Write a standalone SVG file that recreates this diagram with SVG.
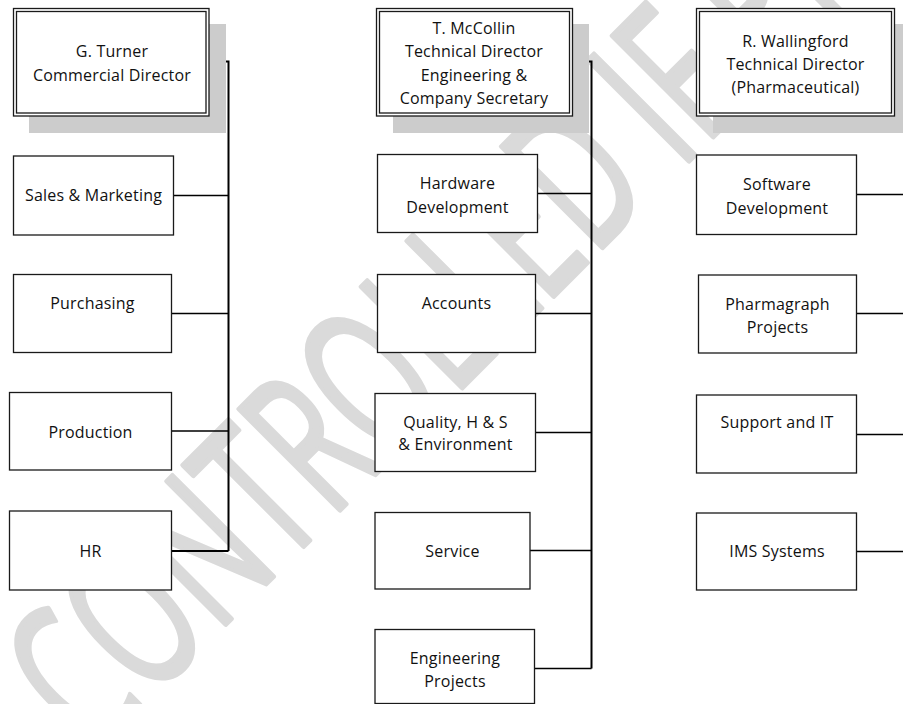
<svg xmlns="http://www.w3.org/2000/svg" width="903" height="704" viewBox="0 0 903 704">
<style>
.wm{font-family:"Open Sans","Liberation Sans",sans-serif;font-weight:400;fill:#dadada;stroke:#dadada;stroke-width:5;stroke-linejoin:round}
.sh{fill:#cccccc}
.bx{fill:#ffffff;stroke:#1a1a1a;stroke-width:1.3}
.in{fill:none;stroke:#1a1a1a;stroke-width:1.3}
.t{font-family:"Open Sans","Liberation Sans",sans-serif;font-size:16px;fill:#111;text-anchor:middle;letter-spacing:0.2px}
.c{fill:none;stroke:#000;stroke-width:1.3}
.cv{fill:none;stroke:#000;stroke-width:2}
</style>
<rect width="903" height="704" fill="#ffffff"/>
<g id="watermark">
<text class="wm" font-size="200" transform="translate(93,757) rotate(-45) scale(0.62,1)">CONTROLLED IF PRINTED</text>
</g>
<g id="connectors">
<path class="cv" d="M209,61.5 H228.5 V551"/>
<path class="c" d="M173.5,195.5 H228.5 M171.5,313.5 H228.5 M171.5,431 H228.5"/>
<path class="cv" d="M171.5,551 H228.5"/>
<path class="cv" d="M572.5,61.5 H591.5 V668.5"/>
<path class="c" d="M537.5,193.5 H591.5 M535.5,313.5 H591.5 M535.5,432.5 H591.5 M530,550.5 H591.5 M534.5,668.5 H591.5"/>
<path class="cv" d="M894.5,61.5 H905"/>
<path class="c" d="M856.5,194.5 H905 M856.5,313.5 H905 M856.5,434.5 H905 M856.5,551.5 H905"/>
</g>
<g id="turner">
<rect class="sh" x="29" y="24" width="197" height="109"/>
<rect class="bx" x="13.5" y="8.5" width="195.5" height="107.5"/>
<rect class="in" x="16.5" y="11.5" width="189.5" height="101.5"/>
<text class="t" x="112" y="57">G. Turner</text>
<text class="t" x="112" y="81">Commercial Director</text>
</g>
<g id="sales">
<rect class="bx" x="13.5" y="156" width="160" height="79"/>
<text class="t" x="93.5" y="201">Sales &amp; Marketing</text>
</g>
<g id="purchasing">
<rect class="bx" x="13.5" y="274.5" width="158" height="78"/>
<text class="t" x="92.5" y="308.5">Purchasing</text>
</g>
<g id="production">
<rect class="bx" x="9.5" y="392.5" width="162" height="77.5"/>
<text class="t" x="90.5" y="437.5">Production</text>
</g>
<g id="hr">
<rect class="bx" x="9.5" y="511" width="162" height="79"/>
<text class="t" x="90.5" y="556.5">HR</text>
</g>
<g id="mccollin">
<rect class="sh" x="393" y="24" width="196" height="109"/>
<rect class="bx" x="376.5" y="8.5" width="196" height="107.5"/>
<rect class="in" x="379.5" y="11.5" width="190" height="101.5"/>
<text class="t" x="474" y="33.5">T. McCollin</text>
<text class="t" x="474" y="57">Technical Director</text>
<text class="t" x="474" y="80.5">Engineering &amp;</text>
<text class="t" x="474" y="104">Company Secretary</text>
</g>
<g id="hardware">
<rect class="bx" x="377.5" y="154.5" width="160" height="78"/>
<text class="t" x="457.5" y="189">Hardware</text>
<text class="t" x="457.5" y="212.5">Development</text>
</g>
<g id="accounts">
<rect class="bx" x="377.5" y="274.5" width="158" height="78"/>
<text class="t" x="456.5" y="308.5">Accounts</text>
</g>
<g id="quality">
<rect class="bx" x="375" y="393.5" width="160.5" height="78"/>
<text class="t" x="455.5" y="427.5">Quality, H &amp; S</text>
<text class="t" x="455.5" y="450">&amp; Environment</text>
</g>
<g id="service">
<rect class="bx" x="375" y="512.5" width="155" height="76.5"/>
<text class="t" x="452.5" y="556.5">Service</text>
</g>
<g id="engprojects">
<rect class="bx" x="375" y="629.5" width="159.5" height="74"/>
<text class="t" x="455" y="663.5">Engineering</text>
<text class="t" x="455" y="687">Projects</text>
</g>
<g id="wallingford">
<rect class="sh" x="713" y="24" width="200" height="109"/>
<rect class="bx" x="696.5" y="8.5" width="198" height="107.5"/>
<rect class="in" x="699.5" y="11.5" width="192" height="101.5"/>
<text class="t" x="795.5" y="46.5">R. Wallingford</text>
<text class="t" x="795.5" y="69.5">Technical Director</text>
<text class="t" x="795.5" y="92.5">(Pharmaceutical)</text>
</g>
<g id="software">
<rect class="bx" x="696.5" y="155" width="160" height="79.5"/>
<text class="t" x="777" y="190">Software</text>
<text class="t" x="777" y="213.5">Development</text>
</g>
<g id="pharmagraph">
<rect class="bx" x="698.5" y="275" width="158" height="78"/>
<text class="t" x="777.5" y="309.5">Pharmagraph</text>
<text class="t" x="777.5" y="332.5">Projects</text>
</g>
<g id="support">
<rect class="bx" x="696.5" y="395" width="160" height="78"/>
<text class="t" x="777" y="428">Support and IT</text>
</g>
<g id="ims">
<rect class="bx" x="696.5" y="513" width="160" height="77"/>
<text class="t" x="777" y="556.5">IMS Systems</text>
</g>
</svg>
